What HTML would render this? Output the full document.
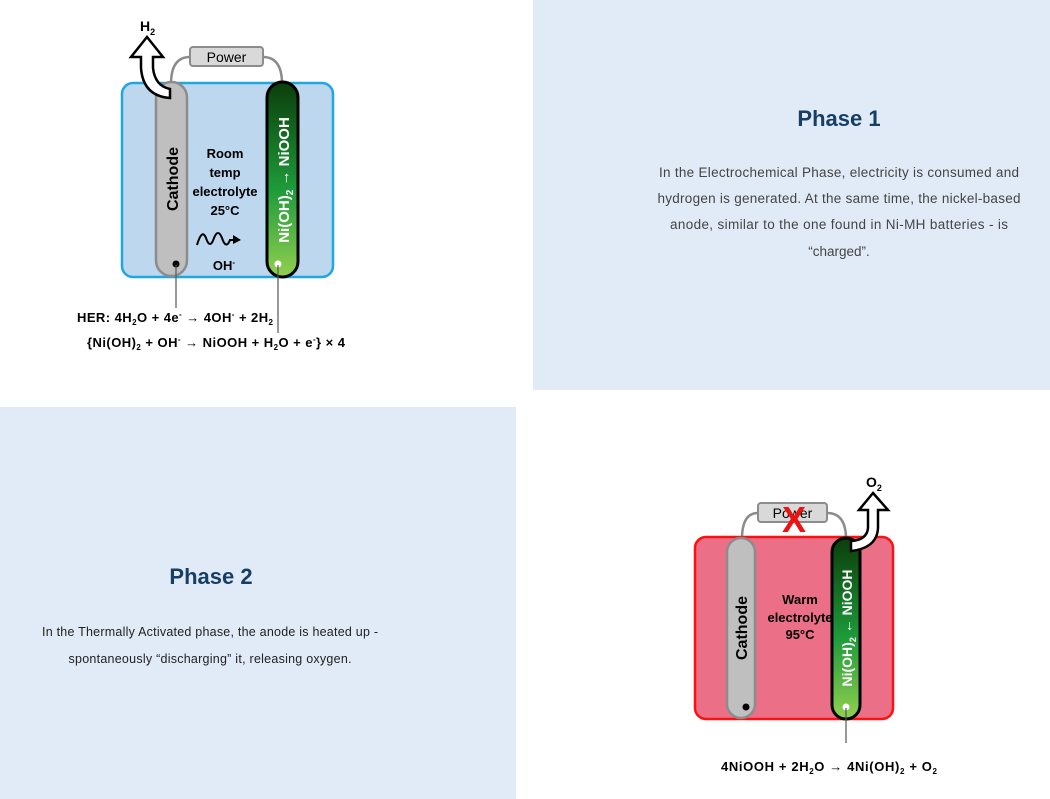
<!DOCTYPE html>
<html><head><meta charset="utf-8"><style>
html,body{margin:0;padding:0;background:#fff;}
svg{display:block;}
</style></head><body>
<svg width="1050" height="799" viewBox="0 0 1050 799" xmlns="http://www.w3.org/2000/svg" font-family="Liberation Sans, sans-serif">
<defs>
<linearGradient id="g1" x1="0" y1="0" x2="0" y2="1">
<stop offset="0" stop-color="#0b3d0b"/><stop offset="0.55" stop-color="#1e9a3a"/><stop offset="1" stop-color="#92d050"/>
</linearGradient>
</defs>
<rect x="533" y="0" width="517" height="390" fill="#e1ebf7"/>
<rect x="0" y="407" width="516" height="392" fill="#e1ebf7"/>

<!-- Phase 1 text -->
<text x="839" y="126" text-anchor="middle" font-size="22" font-weight="bold" fill="#173f66">Phase 1</text>
<g font-size="13.5" fill="#444" text-anchor="middle">
<text x="839" y="177" textLength="360">In the Electrochemical Phase, electricity is consumed and</text>
<text x="839" y="203" textLength="363">hydrogen is generated. At the same time, the nickel-based</text>
<text x="839" y="229" textLength="338">anode, similar to the one found in Ni-MH batteries - is</text>
<text x="839" y="256">“charged”.</text>
</g>

<!-- Phase 2 text -->
<text x="211" y="584" text-anchor="middle" font-size="22" font-weight="bold" fill="#173f66">Phase 2</text>
<g font-size="12.5" fill="#222" text-anchor="middle">
<text x="210" y="636" textLength="336">In the Thermally Activated phase, the anode is heated up -</text>
<text x="210" y="663" textLength="283">spontaneously “discharging” it, releasing oxygen.</text>
</g>

<!-- Diagram 1 -->
<path d="M171,84 Q171,57 190,57 M263,57 Q282,57 282,84" fill="none" stroke="#8c8c8c" stroke-width="2.5"/>
<rect x="190" y="47" width="73" height="19" rx="3" fill="#d9d9d9" stroke="#8c8c8c" stroke-width="2"/>
<text x="226.5" y="62" text-anchor="middle" font-size="14" fill="#000">Power</text>
<rect x="122" y="83" width="211" height="194" rx="11" fill="#bdd7ee" stroke="#1ea7e1" stroke-width="2.5"/>
<rect x="156" y="82" width="31" height="194" rx="15.5" fill="#bfbfbf" stroke="#8c8c8c" stroke-width="2.5"/>
<rect x="267" y="82" width="31" height="195" rx="15.5" fill="url(#g1)" stroke="#000" stroke-width="3"/>
<path d="M147,37 L163,57 L153,57 L153,68 Q155,86 170,89 L170,98 Q143,96 141,68 L141,57 L131,57 Z" fill="#fff" stroke="#000" stroke-width="2.5" stroke-linejoin="miter"/>
<text x="140" y="31" font-size="14" font-weight="bold">H<tspan font-size="9" dy="4">2</tspan></text>
<text transform="translate(178,179) rotate(-90)" text-anchor="middle" font-size="16" font-weight="bold">Cathode</text>
<text transform="translate(289,180) rotate(-90)" text-anchor="middle" font-size="15" font-weight="bold" fill="#fff">Ni(OH)<tspan font-size="10" dy="4">2</tspan><tspan dy="-4"> → NiOOH</tspan></text>
<g font-size="13" font-weight="bold" text-anchor="middle">
<text x="225" y="158">Room</text><text x="225" y="177">temp</text><text x="225" y="196">electrolyte</text><text x="225" y="215">25°C</text>
<text x="224" y="270">OH<tspan font-size="8" dy="-5">-</tspan></text>
</g>
<path d="M197,245 Q202,228 206,238 Q210,250 214,238 Q218,228 222,238 Q226,250 230,240 L236,240" fill="none" stroke="#000" stroke-width="2"/>
<path d="M233,235 L241,240 L233,244 Z" fill="#000"/>
<circle cx="176" cy="264" r="3.5" fill="#000"/>
<circle cx="278" cy="264" r="3.5" fill="#fff"/>
<line x1="176" y1="265" x2="176" y2="308" stroke="#555" stroke-width="1.2"/>
<line x1="278" y1="265" x2="278" y2="333" stroke="#555" stroke-width="1.2"/>
<g font-size="13" font-weight="bold">
<text x="77" y="322" textLength="196">HER: 4H<tspan font-size="8" dy="3">2</tspan><tspan dy="-3">O + 4e</tspan><tspan font-size="8" dy="-5">-</tspan><tspan dy="5"> → 4OH</tspan><tspan font-size="8" dy="-5">-</tspan><tspan dy="5"> + 2H</tspan><tspan font-size="8" dy="3">2</tspan></text>
<text x="87" y="347" textLength="258">{Ni(OH)<tspan font-size="8" dy="3">2</tspan><tspan dy="-3"> + OH</tspan><tspan font-size="8" dy="-5">-</tspan><tspan dy="5"> → NiOOH + H</tspan><tspan font-size="8" dy="3">2</tspan><tspan dy="-3">O + e</tspan><tspan font-size="8" dy="-5">-</tspan><tspan dy="5">} × 4</tspan></text>
</g>

<!-- Diagram 2 -->
<path d="M742,539 Q742,513 758,513 M827,513 Q846,513 846,539" fill="none" stroke="#8c8c8c" stroke-width="2.5"/>
<rect x="758" y="503" width="69" height="19" rx="3" fill="#d9d9d9" stroke="#8c8c8c" stroke-width="2"/>
<text x="792.5" y="518" text-anchor="middle" font-size="14" fill="#000">Power</text>
<text x="794" y="532" text-anchor="middle" font-size="36" font-weight="bold" fill="#ee1111">X</text>
<rect x="695" y="537" width="198" height="182" rx="11" fill="#eb6f87" stroke="#ff1010" stroke-width="2.5"/>
<rect x="727" y="538" width="28" height="180" rx="14" fill="#bfbfbf" stroke="#8c8c8c" stroke-width="2.5"/>
<rect x="832" y="538" width="28" height="181" rx="14" fill="url(#g1)" stroke="#000" stroke-width="3"/>
<path d="M873,493 L888,510 L878,510 L878,528 Q877,548 851,551 L851,541 Q867,540 868,528 L868,510 L859,510 Z" fill="#fff" stroke="#000" stroke-width="2.5"/>
<text x="866" y="487" font-size="14" font-weight="bold">O<tspan font-size="9" dy="4">2</tspan></text>
<text transform="translate(747,628) rotate(-90)" text-anchor="middle" font-size="16" font-weight="bold">Cathode</text>
<text transform="translate(852,628) rotate(-90)" text-anchor="middle" font-size="14" font-weight="bold" fill="#fff">Ni(OH)<tspan font-size="9" dy="4">2</tspan><tspan dy="-4"> ← NiOOH</tspan></text>
<g font-size="13" font-weight="bold" text-anchor="middle">
<text x="800" y="604">Warm</text><text x="800" y="622">electrolyte</text><text x="800" y="639">95°C</text>
</g>
<circle cx="746" cy="707" r="3.5" fill="#000"/>
<circle cx="846" cy="707" r="3.5" fill="#fff"/>
<line x1="846" y1="708" x2="846" y2="743" stroke="#555" stroke-width="1.2"/>
<text x="721" y="771" textLength="216" font-size="13" font-weight="bold">4NiOOH + 2H<tspan font-size="8" dy="3">2</tspan><tspan dy="-3">O → 4Ni(OH)</tspan><tspan font-size="8" dy="3">2</tspan><tspan dy="-3"> + O</tspan><tspan font-size="8" dy="3">2</tspan></text>
</svg>
</body></html>
